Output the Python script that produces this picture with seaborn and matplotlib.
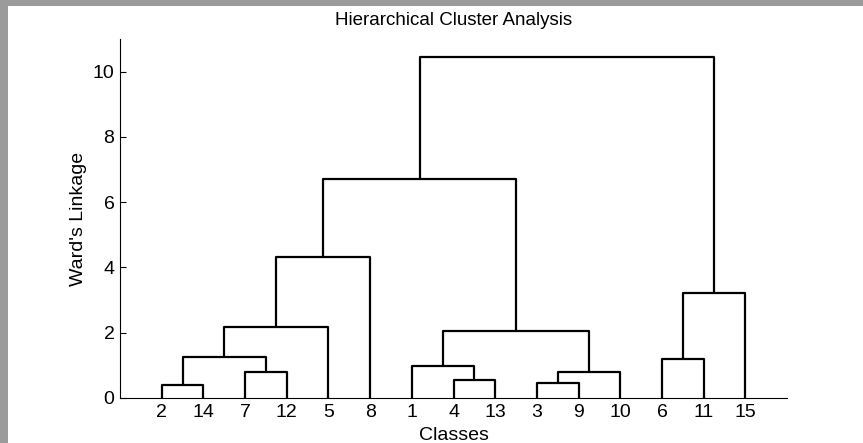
import matplotlib
matplotlib.use("Agg")
import matplotlib.pyplot as plt
import seaborn as sns
import pandas as pd
from matplotlib.patches import Rectangle

# ---- data ----
leaf_order = ["2", "14", "7", "12", "5", "8", "1", "4", "13", "3", "9", "10", "6", "11", "15"]
merge_name = ["c1", "c2", "c3", "c4", "c5", "c6", "c7", "c8", "c9", "c10", "c11", "c12", "c13", "c14"]
merge_a = ["2", "3", "4", "7", "c2", "1", "6", "c1", "c8", "c6", "c7", "c9", "c12", "c13"]
merge_b = ["14", "9", "13", "12", "10", "c3", "11", "c4", "5", "c5", "15", "8", "c10", "c11"]
merge_h = [0.40, 0.47, 0.56, 0.81, 0.79, 0.99, 1.21, 1.27, 2.19, 2.06, 3.22, 4.31, 6.71, 10.46]
y_ticks = [0, 2, 4, 6, 8, 10]

# ---- build dendrogram segments ----
xpos = {lab: i + 1 for i, lab in enumerate(leaf_order)}
hgt = {lab: 0.0 for lab in leaf_order}
rows = []
for k, (n, a, b, h) in enumerate(zip(merge_name, merge_a, merge_b, merge_h)):
    pts = [(xpos[a], hgt[a]), (xpos[a], h), (xpos[b], h), (xpos[b], hgt[b])]
    for x, y in pts:
        rows.append({"x": x, "y": y, "seg": k})
    xpos[n] = (xpos[a] + xpos[b]) / 2
    hgt[n] = h
df = pd.DataFrame(rows)

sns.set_style("white")
plt.rcParams["font.family"] = ["Liberation Sans", "DejaVu Sans"]
plt.rcParams["text.color"] = "black"
plt.rcParams["axes.labelcolor"] = "black"
plt.rcParams["xtick.color"] = "black"
plt.rcParams["ytick.color"] = "black"

fig = plt.figure(figsize=(8.63, 4.43), dpi=100)
fig.patch.set_facecolor("white")
ax = fig.add_axes([120 / 863, 1 - 398 / 443, (787 - 120) / 863, (398 - 39) / 443])

sns.lineplot(data=df, x="x", y="y", units="seg", estimator=None, sort=False,
             color="black", linewidth=1.6, ax=ax, legend=False)

ax.set_xlim(0, 16)
ax.set_ylim(0, 11)
ax.set_xticks(range(1, len(leaf_order) + 1))
ax.set_xticklabels(leaf_order)
ax.set_yticks(y_ticks)
ax.set_yticklabels([str(t) for t in y_ticks])
ax.tick_params(axis="x", length=0, pad=4.5, labelsize=14)
ax.tick_params(axis="y", direction="in", length=4.3, width=0.8, pad=4, labelsize=14, left=True)
for s in ["top", "right"]:
    ax.spines[s].set_visible(False)
for s in ["left", "bottom"]:
    ax.spines[s].set_color("black")
    ax.spines[s].set_linewidth(0.8)

ax.set_xlabel("Classes", fontsize=14, labelpad=4)
ax.set_ylabel("Ward's Linkage", fontsize=14, labelpad=4)
ax.set_title("Hierarchical Cluster Analysis", fontsize=13.5, pad=10)

# gray window border (top and left)
fig.patches.append(Rectangle((0, 1 - 6 / 443), 1, 6 / 443, transform=fig.transFigure,
                             facecolor="#9b9b9b", edgecolor="none", zorder=10))
fig.patches.append(Rectangle((0, 0), 7.5 / 863, 1, transform=fig.transFigure,
                             facecolor="#9b9b9b", edgecolor="none", zorder=10))

fig.savefig("out.png", dpi=100)
